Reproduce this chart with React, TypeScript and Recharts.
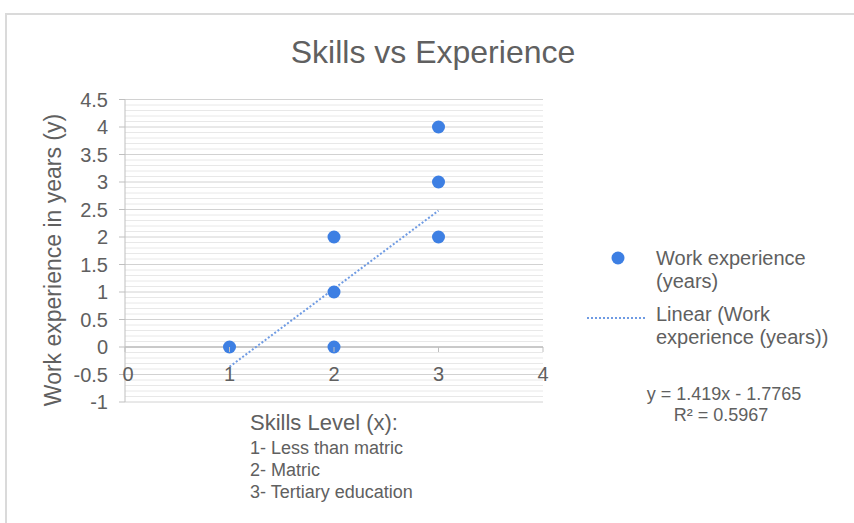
import React from 'react';
import { ScatterChart, Scatter, XAxis, YAxis, CartesianGrid, ReferenceLine } from 'recharts';

const skillLevels = [1, 2, 2, 2, 3, 3, 3];
const workYears = [0, 0, 1, 2, 2, 3, 4];
const trendX = [1, 3];
const trendY = [-0.36, 2.48];
const xTicks = [0, 1, 2, 3, 4];
const yTicks = [-1, -0.5, 0, 0.5, 1, 1.5, 2, 2.5, 3, 3.5, 4, 4.5];
const skillNotes = ['1- Less than matric', '2- Matric', '3- Tertiary education'];
const legendItems = ['Work experience|(years)', 'Linear (Work|experience (years))'];
const equationLines = ['y = 1.419x - 1.7765', 'R² = 0.5967'];

const points = skillLevels.map((x, i) => ({ x, y: workYears[i] }));
const trend = trendX.map((x, i) => ({ x, y: trendY[i] }));
const minorLines: number[] = [];
for (let i = -10; i <= 45; i++) {
  if (i % 5 !== 0) minorLines.push(i / 10);
}

const FONT = '"Liberation Sans", Arial, sans-serif';
const TXT = '#606060';
const BLUE = '#3d7fe3';

const XTick = (props: any) => {
  const { x, y, payload } = props;
  return (
    <g>
      <line x1={x} x2={x} y1={y - 55} y2={y - 50} stroke="#bfbfbf" />
      <text x={x + (payload.value === 0 ? 3 : 0)} y={y - 21} textAnchor="middle" fill={TXT} fontSize={20} fontFamily={FONT}>
        {payload.value}
      </text>
    </g>
  );
};

const Dot = (props: any) => <circle cx={props.cx} cy={props.cy} r={6.5} fill={BLUE} />;
const NoDot = () => <g />;

export default function App() {
  return (
    <div style={{ position: 'absolute', left: 0, top: 0, width: 854, height: 523, overflow: 'hidden', background: '#fff', fontFamily: FONT }}>
      <div style={{ position: 'absolute', left: 5, top: 13, width: 860, height: 520, borderTop: '2px solid #dadada', borderLeft: '2px solid #dadada' }} />
      <div style={{ position: 'absolute', left: 0, top: 0 }}>
        <ScatterChart width={854} height={523} margin={{ top: 99.5, right: 311, bottom: 91, left: 85 }}>
          {minorLines.map((v) => (
            <ReferenceLine key={v} y={v} stroke="#e8e8e8" strokeWidth={1} ifOverflow="hidden" />
          ))}
          <CartesianGrid vertical={false} stroke="#d2d2d2" />
          <ReferenceLine y={0} stroke="#bfbfbf" strokeWidth={1.5} />
          <XAxis type="number" dataKey="x" domain={[0, 4]} ticks={xTicks} height={30} axisLine={false} tickLine={false} tickSize={0} tickMargin={0} tick={XTick} interval={0} />
          <YAxis type="number" dataKey="y" domain={[-1, 4.5]} ticks={yTicks} width={40} axisLine={{ stroke: '#bfbfbf' }} tickLine={{ stroke: '#bfbfbf' }} tickSize={6} tickMargin={11} tick={{ fill: TXT, fontSize: 20, fontFamily: FONT }} interval={0} />
          <Scatter data={trend} isAnimationActive={false} shape={<NoDot />} line={{ stroke: '#6f9be3', strokeWidth: 2, strokeDasharray: '2 2' }} lineType="joint" />
          <Scatter data={points} isAnimationActive={false} shape={<Dot />} />
        </ScatterChart>
      </div>
      <svg width={854} height={523} style={{ position: 'absolute', left: 0, top: 0, pointerEvents: 'none' }}>
        <text x={433} y={63} textAnchor="middle" fill={TXT} fontSize={32} fontFamily={FONT}>Skills vs Experience</text>
        <text x={0} y={0} transform="translate(53,260) rotate(-90)" textAnchor="middle" dominantBaseline="central" fill={TXT} fontSize={23} fontFamily={FONT}>
          Work experience in years (y)
        </text>
        <text x={250} y={430} fill={TXT} fontSize={22} fontFamily={FONT}>Skills Level (x):</text>
        {skillNotes.map((s, i) => (
          <text key={s} x={250} y={454 + i * 22} fill={TXT} fontSize={18} fontFamily={FONT}>{s}</text>
        ))}
        <circle cx={618} cy={258} r={6.5} fill={BLUE} />
        <line x1={587} x2={646} y1={318} y2={318} stroke="#6f9be3" strokeWidth={2} strokeDasharray="2 2" />
        {legendItems.map((item, i) =>
          item.split('|').map((ln, j) => (
            <text key={ln} x={656} y={265 + i * 56 + j * 23} fill={TXT} fontSize={20} fontFamily={FONT}>{ln}</text>
          ))
        )}
        {equationLines.map((ln, i) => (
          <text key={ln} x={i === 0 ? 724 : 721} y={400 + i * 21} textAnchor="middle" fill={TXT} fontSize={18} fontFamily={FONT}>{ln}</text>
        ))}
      </svg>
    </div>
  );
}
